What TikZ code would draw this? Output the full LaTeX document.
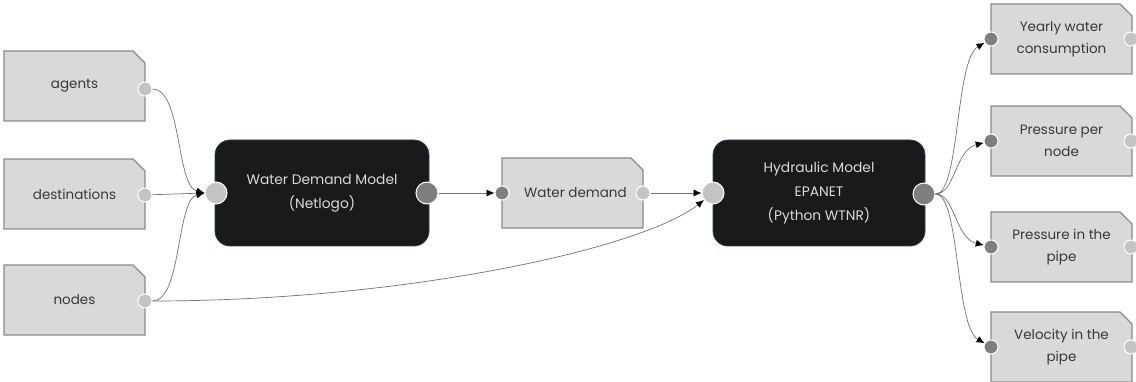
\documentclass[tikz,border=0pt]{standalone}
\usepackage{fontspec}
\setmainfont{Poppins}
\usetikzlibrary{arrows.meta}
\definecolor{boxfill}{HTML}{D9D9D9}
\definecolor{boxline}{HTML}{8A8A8A}
\definecolor{modfill}{HTML}{1A1A1A}
\definecolor{modline}{HTML}{2C3E5E}
\definecolor{portlight}{HTML}{C4C4C4}
\definecolor{portdark}{HTML}{7F7F7F}
\definecolor{wirecol}{HTML}{707070}
\definecolor{doctext}{HTML}{383838}
\definecolor{modtext}{HTML}{DADADA}
\tikzset{
  docshape/.style={draw=boxline, fill=boxfill, line width=1.1pt},
  doclabel/.style={text=doctext, font=\fontsize{13.5}{22}\selectfont, align=center, inner sep=0pt},
  modelbox/.style={draw=modline, fill=modfill, line width=0.8pt, rounded corners=15pt,
    minimum width=212pt, minimum height=106pt, inner sep=0pt, text=modtext, align=center,
    font=\fontsize{13.8}{24}\selectfont},
  pin/.style={circle, draw=white, line width=1pt, inner sep=0pt, minimum size=14pt},
  pinL/.style={pin, fill=portlight},
  pinD/.style={pin, fill=portdark},
  bigpin/.style={minimum size=22pt},
  wire/.style={draw=wirecol, line width=0.7pt, -{Latex[length=8pt,width=7pt,color=black]}},
}
% name, left x, top y, text (y measured downward)
\newcommand\docbox[4]{%
  \draw[docshape] (#2,-#3) -- ++(129,0) -- ++(12,-12) -- ++(0,-58) -- ++(-141,0) -- cycle;
  \node[doclabel] (#1) at (#2+70.5,-#3-35) {#4};
}
\begin{document}
\begin{tikzpicture}[x=1pt,y=1pt]
\useasboundingbox (0,0) rectangle (1136,-382);
% left inputs
\docbox{agents}{4}{51}{agents}
\docbox{dest}{4}{159}{destinations}
\docbox{nodes}{4}{265}{nodes}
\node[pinL] (agentsOut) at (145,-89) {};
\node[pinL] (destOut) at (145,-195) {};
\node[pinL] (nodesOut) at (145,-301) {};
% water demand model
\node[modelbox, minimum width=214pt] (wdm) at (322,-193) {Water Demand Model\\(Netlogo)};
\node[pinL, bigpin] (wdmIn) at (216,-193) {};
\node[pinD, bigpin] (wdmOut) at (427,-193) {};
% water demand doc
\docbox{wd}{502}{158}{\hspace*{6pt}Water demand}
\node[pinD] (wdIn) at (502,-193) {};
\node[pinL] (wdOut) at (643,-193) {};
% hydraulic model
\node[modelbox] (hyd) at (819,-193) {Hydraulic Model\\EPANET\\(Python WTNR)};
\node[pinL, bigpin] (hydIn) at (713,-193) {};
\node[pinD, bigpin] (hydOut) at (924,-194) {};
% outputs
\docbox{yearly}{991}{4}{Yearly water\\consumption}
\docbox{ppn}{991}{106}{Pressure per\\node}
\docbox{ppipe}{991}{212}{Pressure in the\\pipe}
\docbox{vpipe}{991}{312}{Velocity in the\\pipe}
\node[pinD] (yearlyIn) at (991,-39) {};
\node[pinL] (yearlyOut) at (1131,-39) {};
\node[pinD] (ppnIn) at (991,-141) {};
\node[pinL] (ppnOut) at (1131,-141) {};
\node[pinD] (ppipeIn) at (991,-247) {};
\node[pinL] (ppipeOut) at (1131,-247) {};
\node[pinD] (vpipeIn) at (991,-347) {};
\node[pinL] (vpipeOut) at (1131,-347) {};
% connectors
\draw[wire] (agentsOut) .. controls (182,-89) and (176,-186) .. (wdmIn.west);
\draw[wire] (destOut) -- (wdmIn.west);
\draw[wire] (nodesOut) .. controls (182,-301) and (176,-200) .. (wdmIn.west);
\draw[wire] (nodesOut) .. controls (400,-301) and (640,-250) .. (hydIn);
\draw[wire] (wdmOut) -- (wdIn);
\draw[wire] (wdOut) -- (hydIn);
\draw[wire] (hydOut) .. controls (960,-194) and (955,-60) .. (yearlyIn);
\draw[wire] (hydOut) .. controls (955,-194) and (955,-150) .. (ppnIn);
\draw[wire] (hydOut) .. controls (955,-194) and (955,-238) .. (ppipeIn);
\draw[wire] (hydOut) .. controls (960,-194) and (955,-326) .. (vpipeIn);
\end{tikzpicture}
\end{document}
